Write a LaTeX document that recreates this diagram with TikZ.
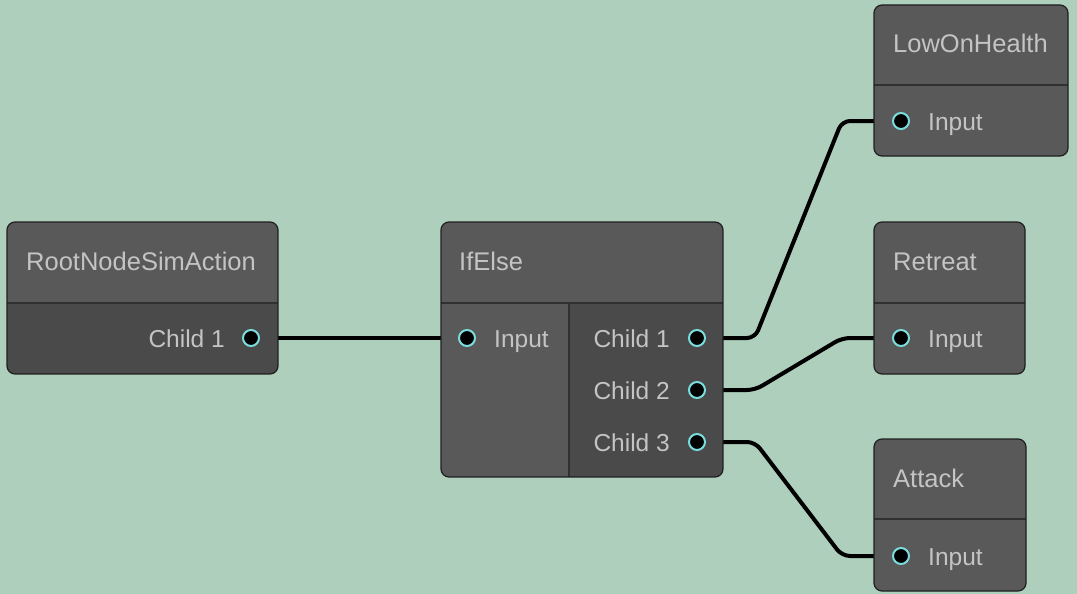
\documentclass[tikz,border=0pt]{standalone}
\usepackage{fontspec}
\setmainfont{Liberation Sans}
\definecolor{mybg}{HTML}{AECFBC}
\definecolor{myhead}{HTML}{595959}
\definecolor{mydark}{HTML}{4A4A4A}
\definecolor{myedge}{HTML}{1F1F1F}
\definecolor{mysep}{HTML}{303030}
\definecolor{mytext}{HTML}{C4C4C4}
\definecolor{mycyan}{HTML}{7ADCDC}
\usetikzlibrary{backgrounds}
\tikzset{
	framenode/.style={
			draw=myedge,
			line width=1.2,
			rounded corners=8
		},
	sepline/.style={
			draw=mysep,
			line width=1.5
		},
	titlenode/.style={
			text=mytext,
			font=\fontsize{25.5}{30}\selectfont,
			inner sep=0pt,
			anchor=base west
		},
	slotnode/.style={
			text=mytext,
			font=\fontsize{24.5}{28}\selectfont,
			inner sep=0pt
		},
	portnode/.style={
			circle,
			draw=mycyan,
			fill=black,
			line width=2,
			minimum size=16,
			inner sep=0pt
		},
	wire/.style={
			draw=black,
			line width=4,
			rounded corners=8
		}
}
\begin{document}
\begin{tikzpicture}[x=1pt, y=-1pt]
\useasboundingbox (0,0) rectangle (1077,594);
\begin{pgfonlayer}{background}
\fill[mybg] (0,0) rectangle (1077,594);
\end{pgfonlayer}

\begin{scope}
\clip[rounded corners=8] (7,222) rectangle (278,374);
\fill[myhead] (7,222) rectangle (278,303);
\fill[mydark] (7,303) rectangle (278,374);
\end{scope}
\draw[sepline] (7,303) -- (278,303);
\draw[framenode] (7,222) rectangle (278,374);

\begin{scope}
\clip[rounded corners=8] (441,222) rectangle (723,477);
\fill[myhead] (441,222) rectangle (723,477);
\fill[mydark] (569,303) rectangle (723,477);
\end{scope}
\draw[sepline] (441,303) -- (723,303);
\draw[sepline] (569,303) -- (569,477);
\draw[framenode] (441,222) rectangle (723,477);

\fill[myhead, rounded corners=8] (874,5) rectangle (1068,156);
\draw[sepline] (874,85) -- (1068,85);
\draw[framenode] (874,5) rectangle (1068,156);

\fill[myhead, rounded corners=8] (874,222) rectangle (1025,374);
\draw[sepline] (874,303) -- (1025,303);
\draw[framenode] (874,222) rectangle (1025,374);

\fill[myhead, rounded corners=8] (874,439) rectangle (1026,591);
\draw[sepline] (874,519) -- (1026,519);
\draw[framenode] (874,439) rectangle (1026,591);

\node[titlenode] (tRoot) at (26,270) {RootNodeSimAction};
\node[titlenode] (tIfElse) at (459,270) {IfElse};
\node[titlenode] (tLow) at (893,53) {LowOnHealth};
\node[titlenode] (tRetreat) at (893,270) {Retreat};
\node[titlenode] (tAttack) at (893,487) {Attack};

\node[portnode] (rootC1) at (251,338) {};
\node[portnode] (ifIn) at (467,338) {};
\node[portnode] (ifC1) at (697,338) {};
\node[portnode] (ifC2) at (697,390) {};
\node[portnode] (ifC3) at (697,442) {};
\node[portnode] (lowIn) at (901,121) {};
\node[portnode] (retreatIn) at (901,338) {};
\node[portnode] (attackIn) at (901,556) {};

\node[slotnode, anchor=base east] (lRootC1) at (225,347) {Child 1};
\node[slotnode, anchor=base west] (lIfIn) at (494,347) {Input};
\node[slotnode, anchor=base east] (lIfC1) at (670,347) {Child 1};
\node[slotnode, anchor=base east] (lIfC2) at (670,399) {Child 2};
\node[slotnode, anchor=base east] (lIfC3) at (670,451) {Child 3};
\node[slotnode, anchor=base west] (lLowIn) at (928,130) {Input};
\node[slotnode, anchor=base west] (lRetreatIn) at (928,347) {Input};
\node[slotnode, anchor=base west] (lAttackIn) at (928,565) {Input};

\begin{pgfonlayer}{background}
\draw[wire] (rootC1.center) -- (ifIn.center);
\draw[wire] (ifC1.center) -- ([xshift=58]ifC1.center) -- ([xshift=-59]lowIn.center) -- (lowIn.center);
\draw[wire] (ifC2.center) -- ([xshift=58]ifC2.center) -- ([xshift=-59]retreatIn.center) -- (retreatIn.center);
\draw[wire] (ifC3.center) -- ([xshift=58]ifC3.center) -- ([xshift=-59]attackIn.center) -- (attackIn.center);
\end{pgfonlayer}
\end{tikzpicture}
\end{document}
